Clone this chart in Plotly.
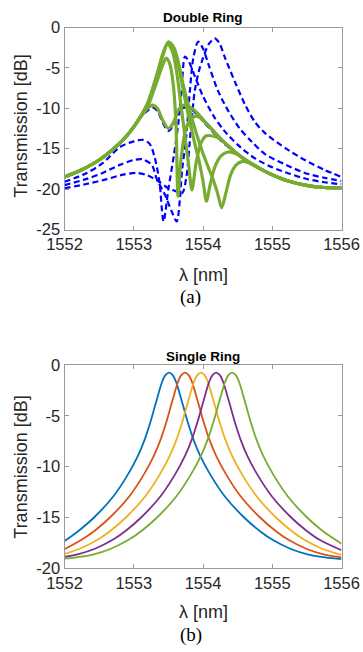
import plotly.graph_objects as go

# ---------------- data: top panel (Double Ring) ----------------
# green solid curves
gS_x = [1552.0, 1552.25, 1552.5, 1552.75, 1552.9, 1553.0, 1553.1, 1553.2, 1553.27, 1553.34, 1553.42, 1553.5,
        1553.57, 1553.64, 1553.7, 1553.74, 1553.84, 1553.92, 1554.0, 1554.15, 1554.27, 1554.45, 1554.6, 1554.75,
        1554.94, 1555.1, 1555.23, 1555.47, 1555.75, 1556.0]
gS_y = [-18.5, -17.6, -16.4, -14.7, -13.4, -12.3, -11.0, -10.0, -9.6, -10.0, -11.5, -12.5,
        -11.8, -10.3, -9.7, -9.6, -10.0, -10.6, -11.4, -12.8, -13.9, -15.3, -16.3, -17.1,
        -18.0, -18.6, -19.0, -19.5, -19.8, -19.85]

gC_x = [1552.0, 1552.25, 1552.5, 1552.75, 1552.9, 1553.0, 1553.1, 1553.2, 1553.28, 1553.35, 1553.42, 1553.47,
        1553.52, 1553.57, 1553.61, 1553.64, 1553.68, 1553.74, 1553.8, 1553.88, 1553.95, 1554.0, 1554.15, 1554.27,
        1554.45, 1554.6, 1554.75, 1554.94, 1555.1, 1555.23, 1555.47, 1555.75, 1556.0]
gC_y = [-18.5, -17.6, -16.4, -14.7, -13.4, -12.3, -11.1, -9.8, -8.0, -6.3, -4.6, -3.8,
        -4.5, -7.0, -12.0, -20.9, -16.5, -13.0, -11.6, -11.0, -11.1, -11.5, -12.8, -13.9,
        -15.3, -16.3, -17.1, -18.0, -18.6, -19.0, -19.5, -19.8, -19.85]

gB_x = [1552.0, 1552.25, 1552.5, 1552.75, 1552.9, 1553.0, 1553.1, 1553.2, 1553.28, 1553.35, 1553.42, 1553.49,
        1553.56, 1553.62, 1553.68, 1553.74, 1553.79, 1553.84, 1553.9, 1553.97, 1554.05, 1554.12, 1554.2, 1554.27,
        1554.45, 1554.6, 1554.75, 1554.94, 1555.1, 1555.23, 1555.47, 1555.75, 1556.0]
gB_y = [-18.5, -17.6, -16.4, -14.7, -13.4, -12.3, -11.0, -9.5, -7.6, -5.6, -3.5, -2.0,
        -3.0, -5.5, -9.5, -13.5, -16.8, -20.1, -16.8, -14.3, -13.4, -13.4, -13.6, -13.95,
        -15.3, -16.3, -17.1, -18.0, -18.6, -19.0, -19.5, -19.8, -19.85]

gA1_x = [1552.0, 1552.25, 1552.5, 1552.75, 1552.9, 1553.0, 1553.1, 1553.2, 1553.28, 1553.35, 1553.42, 1553.5,
         1553.58, 1553.65, 1553.72, 1553.8, 1553.88, 1553.95, 1554.0, 1554.05, 1554.1, 1554.17, 1554.26, 1554.37,
         1554.47, 1554.55, 1554.6, 1554.75, 1554.94, 1555.1, 1555.23, 1555.47, 1555.75, 1556.0]
gA1_y = [-18.5, -17.6, -16.4, -14.7, -13.4, -12.3, -11.0, -9.4, -7.4, -5.4, -3.3, -1.8,
         -2.6, -4.8, -8.0, -11.3, -14.3, -16.8, -19.0, -21.5, -19.6, -17.3, -15.9, -15.4,
         -15.6, -16.0, -16.3, -17.1, -18.0, -18.6, -19.0, -19.5, -19.8, -19.85]

gA2_x = [1552.0, 1552.25, 1552.5, 1552.75, 1552.9, 1553.0, 1553.1, 1553.2, 1553.28, 1553.35, 1553.42, 1553.5,
         1553.58, 1553.65, 1553.72, 1553.8, 1553.9, 1554.0, 1554.08, 1554.15, 1554.21, 1554.27, 1554.33, 1554.4,
         1554.48, 1554.56, 1554.65, 1554.75, 1554.94, 1555.1, 1555.23, 1555.47, 1555.75, 1556.0]
gA2_y = [-18.5, -17.6, -16.4, -14.7, -13.4, -12.3, -11.0, -9.4, -7.4, -5.4, -3.3, -1.8,
         -2.5, -4.5, -7.3, -10.0, -13.0, -15.6, -17.4, -18.9, -20.5, -22.3, -20.5, -18.2,
         -17.0, -16.6, -16.7, -17.15, -18.0, -18.6, -19.0, -19.5, -19.8, -19.85]

# blue dashed curves
bS_x = [1552.0, 1552.25, 1552.5, 1552.75, 1552.9, 1553.0, 1553.1, 1553.2, 1553.27, 1553.34, 1553.42, 1553.5,
        1553.57, 1553.64, 1553.7, 1553.76, 1553.84, 1553.92, 1554.0, 1554.15, 1554.27, 1554.45, 1554.6, 1554.75,
        1554.94, 1555.1, 1555.23, 1555.47, 1555.75, 1556.0]
bS_y = [-18.5, -17.6, -16.4, -14.7, -13.4, -12.3, -11.1, -10.3, -9.9, -10.3, -11.8, -12.8,
        -12.1, -10.6, -10.0, -9.9, -10.2, -10.8, -11.6, -13.0, -14.1, -15.4, -16.4, -17.2,
        -18.0, -18.6, -19.0, -19.5, -19.8, -19.85]

b2_x = [1552.0, 1552.3, 1552.55, 1552.8, 1553.0, 1553.13, 1553.23, 1553.3, 1553.37, 1553.43, 1553.5, 1553.58,
        1553.64, 1553.69, 1553.74, 1553.8, 1553.89, 1554.0, 1554.15, 1554.3, 1554.5, 1554.75, 1555.0, 1555.25,
        1555.5, 1555.75, 1556.0]
b2_y = [-19.1, -18.1, -16.8, -14.8, -14.1, -13.9, -14.4, -16.0, -19.0, -24.0, -20.0, -15.8,
        -12.1, -7.9, -3.6, -4.3, -6.2, -8.5, -10.9, -12.7, -14.5, -16.2, -17.3, -18.1,
        -18.75, -19.15, -19.4]

b3_x = [1552.0, 1552.3, 1552.55, 1552.8, 1553.0, 1553.12, 1553.26, 1553.33, 1553.45, 1553.55, 1553.62, 1553.7,
        1553.76, 1553.81, 1553.86, 1553.93, 1554.0, 1554.08, 1554.22, 1554.37, 1554.53, 1554.7, 1554.9, 1555.2,
        1555.47, 1555.75, 1556.0]
b3_y = [-19.5, -18.8, -18.0, -17.0, -16.4, -16.3, -17.0, -18.7, -20.7, -22.8, -24.0, -17.5,
        -13.3, -7.9, -3.8, -1.76, -2.6, -4.6, -7.9, -10.4, -12.5, -14.1, -15.7, -17.0,
        -18.0, -18.6, -19.0]

b4_x = [1552.0, 1552.3, 1552.6, 1552.85, 1553.05, 1553.2, 1553.35, 1553.5, 1553.62, 1553.7, 1553.76, 1553.82,
        1553.88, 1553.94, 1554.0, 1554.08, 1554.17, 1554.24, 1554.32, 1554.46, 1554.61, 1554.75, 1554.9, 1555.2,
        1555.47, 1555.75, 1556.0]
b4_y = [-19.9, -19.4, -18.8, -18.2, -18.0, -18.3, -19.0, -19.9, -20.3, -20.5, -18.5, -13.0,
        -7.9, -5.4, -3.8, -2.1, -1.34, -2.0, -3.8, -6.7, -9.6, -11.7, -13.1, -15.0,
        -16.4, -17.6, -18.5]

# ---------------- data: bottom panel (Single Ring) ----------------
s1_x = [1552.0, 1552.21, 1552.43, 1552.71, 1552.91, 1553.06, 1553.16, 1553.235, 1553.31, 1553.36, 1553.41, 1553.46,
        1553.51, 1553.56, 1553.61, 1553.66, 1553.71, 1553.785, 1553.86, 1553.96, 1554.11, 1554.31, 1554.59, 1554.81,
        1555.01, 1555.26, 1555.51, 1555.76, 1556.0]
s1_y = [-17.35, -16.3, -15.0, -12.9, -10.85, -8.95, -7.3, -5.75, -3.95, -2.75, -1.65, -0.98,
        -0.75, -0.98, -1.65, -2.75, -3.95, -5.75, -7.3, -8.95, -10.85, -12.9, -15.0, -16.3,
        -17.25, -18.1, -18.65, -18.95, -19.12]

s2_x = [1552.0, 1552.24, 1552.44, 1552.66, 1552.94, 1553.14, 1553.29, 1553.39, 1553.465, 1553.54, 1553.59, 1553.64,
        1553.69, 1553.74, 1553.79, 1553.84, 1553.89, 1553.94, 1554.015, 1554.09, 1554.19, 1554.34, 1554.54, 1554.82,
        1555.04, 1555.24, 1555.49, 1555.74, 1556.0]
s2_y = [-18.15, -17.25, -16.3, -15.0, -12.9, -10.85, -8.95, -7.3, -5.75, -3.95, -2.75, -1.65,
        -0.98, -0.75, -0.98, -1.65, -2.75, -3.95, -5.75, -7.3, -8.95, -10.85, -12.9, -15.0,
        -16.3, -17.25, -18.1, -18.65, -18.96]

s3_x = [1552.0, 1552.22, 1552.47, 1552.67, 1552.89, 1553.17, 1553.37, 1553.52, 1553.62, 1553.695, 1553.77, 1553.82,
        1553.87, 1553.92, 1553.97, 1554.02, 1554.07, 1554.12, 1554.17, 1554.245, 1554.32, 1554.42, 1554.57, 1554.77,
        1555.05, 1555.27, 1555.47, 1555.72, 1556.0]
s3_y = [-18.6, -18.1, -17.25, -16.3, -15.0, -12.9, -10.85, -8.95, -7.3, -5.75, -3.95, -2.75,
        -1.65, -0.98, -0.75, -0.98, -1.65, -2.75, -3.95, -5.75, -7.3, -8.95, -10.85, -12.9,
        -15.0, -16.3, -17.25, -18.1, -18.7]

s4_x = [1552.0, 1552.19, 1552.44, 1552.69, 1552.89, 1553.11, 1553.39, 1553.59, 1553.74, 1553.84, 1553.915, 1553.99,
        1554.04, 1554.09, 1554.14, 1554.19, 1554.24, 1554.29, 1554.34, 1554.39, 1554.465, 1554.54, 1554.64, 1554.79,
        1554.99, 1555.27, 1555.49, 1555.69, 1556.0]
s4_y = [-18.9, -18.65, -18.1, -17.25, -16.3, -15.0, -12.9, -10.85, -8.95, -7.3, -5.75, -3.95,
        -2.75, -1.65, -0.98, -0.75, -0.98, -1.65, -2.75, -3.95, -5.75, -7.3, -8.95, -10.85,
        -12.9, -15.0, -16.3, -17.25, -18.25]

s5_x = [1552.0, 1552.17, 1552.42, 1552.67, 1552.92, 1553.12, 1553.34, 1553.62, 1553.82, 1553.97, 1554.07, 1554.145,
        1554.22, 1554.27, 1554.32, 1554.37, 1554.42, 1554.47, 1554.52, 1554.57, 1554.62, 1554.695, 1554.77, 1554.87,
        1555.02, 1555.22, 1555.5, 1555.72, 1556.0]
s5_y = [-19.08, -18.95, -18.65, -18.1, -17.25, -16.3, -15.0, -12.9, -10.85, -8.95, -7.3, -5.75,
        -3.95, -2.75, -1.65, -0.98, -0.75, -0.98, -1.65, -2.75, -3.95, -5.75, -7.3, -8.95,
        -10.85, -12.9, -15.0, -16.3, -17.6]

x_ticks = [1552, 1553, 1554, 1555, 1556]
x_ticktext = ["1552", "1553", "1554", "1555", "1556"]
y1_ticks = [-25, -20, -15, -10, -5, 0]
y1_ticktext = ["-25", "-20", "-15", "-10", "-5", "0"]
y2_ticks = [-20, -15, -10, -5, 0]
y2_ticktext = ["-20", "-15", "-10", "-5", "0"]

single_colors = ["#0072BD", "#D95319", "#EDB120", "#7E2F8E", "#77AC30"]

# ---------------- figure ----------------
W, H = 363, 652
fig = go.Figure()

blue_sets = [(bS_x, bS_y), (b2_x, b2_y), (b3_x, b3_y), (b4_x, b4_y)]
green_sets = [(gS_x, gS_y), (gC_x, gC_y), (gB_x, gB_y), (gA1_x, gA1_y), (gA2_x, gA2_y)]

for xs, ys in blue_sets:
    fig.add_trace(go.Scatter(x=xs, y=ys, mode="lines", xaxis="x", yaxis="y",
                             line=dict(color="#0000FF", width=2.2, dash="6px,3.5px",
                                       shape="spline", smoothing=0.8),
                             hoverinfo="skip"))
for xs, ys in green_sets:
    fig.add_trace(go.Scatter(x=xs, y=ys, mode="lines", xaxis="x", yaxis="y",
                             line=dict(color="#77AC30", width=3.2, shape="spline", smoothing=0.8),
                             hoverinfo="skip"))

single_sets = [(s1_x, s1_y), (s2_x, s2_y), (s3_x, s3_y), (s4_x, s4_y), (s5_x, s5_y)]
for (xs, ys), c in zip(single_sets, single_colors):
    fig.add_trace(go.Scatter(x=xs, y=ys, mode="lines", xaxis="x2", yaxis="y2",
                             line=dict(color=c, width=1.8, shape="spline", smoothing=1.0),
                             hoverinfo="skip"))

px_l, px_r = 64.5, 341.5
top_t, top_b = 27.5, 229.5
bot_t, bot_b = 365.0, 568.0


def fx(p):
    return p / W


def fy(p):
    return 1 - p / H


tickfont = dict(family="Liberation Sans, Arial, sans-serif", size=16.5, color="#262626")
axis_common = dict(showline=True, linecolor="#9a9a9a", linewidth=1, mirror="ticks",
                   ticks="inside", ticklen=4, tickcolor="#9a9a9a", tickwidth=1,
                   showgrid=False, zeroline=False, tickfont=tickfont, fixedrange=True,
                   automargin=False)

fig.update_layout(
    template="none",
    width=W, height=H, margin=dict(l=0, r=0, t=0, b=0, pad=0), autosize=False,
    paper_bgcolor="white", plot_bgcolor="white", showlegend=False,
    xaxis=dict(domain=[fx(px_l), fx(px_r)], anchor="y", range=[1552, 1556],
               tickvals=x_ticks, ticktext=x_ticktext, **axis_common),
    yaxis=dict(domain=[fy(top_b), fy(top_t)], anchor="x", range=[-25, 0],
               tickvals=y1_ticks, ticktext=y1_ticktext, **axis_common),
    xaxis2=dict(domain=[fx(px_l), fx(px_r)], anchor="y2", range=[1552, 1556],
                tickvals=x_ticks, ticktext=x_ticktext, **axis_common),
    yaxis2=dict(domain=[fy(bot_b), fy(bot_t)], anchor="x2", range=[-20, 0],
                tickvals=y2_ticks, ticktext=y2_ticktext, **axis_common),
)

label_font = dict(family="Liberation Sans, Arial, sans-serif", size=18, color="#262626")
title_font = dict(family="Liberation Sans, Arial, sans-serif", size=13.5, color="#000000")
cap_font = dict(family="Liberation Serif, Times New Roman, serif", size=19, color="#000000")

annots = [
    dict(text="<b>Double Ring</b>", x=fx(203), y=fy(17.5), font=title_font),
    dict(text="<b>Single Ring</b>", x=fx(203), y=fy(357), font=title_font),
    dict(text="Transmission [dB]", x=fx(20.7), y=fy(126), font=label_font, textangle=-90),
    dict(text="Transmission [dB]", x=fx(20.7), y=fy(467), font=label_font, textangle=-90),
    dict(text="λ [nm]", x=fx(203), y=fy(275), font=label_font),
    dict(text="λ [nm]", x=fx(203), y=fy(611.7), font=label_font),
    dict(text="(a)", x=fx(190.5), y=fy(297), font=cap_font),
    dict(text="(b)", x=fx(190.5), y=fy(635), font=cap_font),
]
for a in annots:
    fig.add_annotation(xref="paper", yref="paper", showarrow=False,
                       xanchor="center", yanchor="middle", **a)

fig.write_html("out.html",
               config={"displayModeBar": False, "staticPlot": True},
               post_script="document.body.style.margin='0';document.body.style.overflow='hidden';")
